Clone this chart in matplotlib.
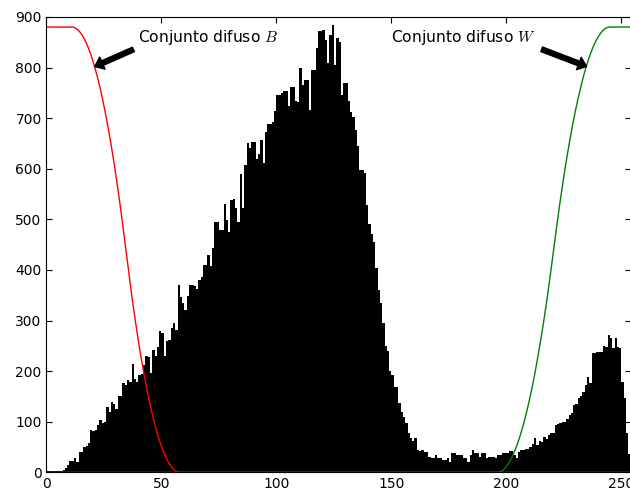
import numpy as np
import matplotlib
matplotlib.use("Agg")
import matplotlib.pyplot as plt

plt.rcParams['mathtext.fontset'] = 'cm'

# histograma de niveles de gris (256 bins)
counts = [
    3, 2, 3, 2, 2, 3, 3, 5, 9, 14,
    22, 22, 28, 20, 40, 40, 50, 52, 57, 84,
    82, 84, 94, 103, 98, 100, 130, 120, 138, 135,
    125, 150, 150, 176, 172, 182, 178, 215, 185, 179,
    192, 195, 212, 229, 228, 196, 242, 230, 247, 280,
    276, 230, 260, 262, 285, 296, 281, 370, 347, 335,
    320, 348, 370, 370, 368, 363, 381, 386, 410, 410,
    429, 408, 443, 494, 494, 479, 479, 530, 499, 475,
    538, 540, 522, 495, 589, 522, 607, 650, 640, 653,
    653, 620, 630, 656, 611, 673, 689, 689, 692, 715,
    746, 746, 749, 754, 754, 723, 762, 762, 734, 732,
    800, 766, 775, 775, 716, 795, 795, 838, 872, 872,
    874, 854, 808, 864, 884, 805, 858, 851, 746, 769,
    769, 733, 713, 703, 677, 644, 598, 598, 591, 529,
    490, 470, 456, 403, 361, 334, 295, 249, 240, 200,
    192, 169, 169, 136, 120, 110, 97, 77, 68, 61,
    67, 44, 43, 44, 41, 41, 31, 28, 28, 34,
    28, 28, 24, 24, 28, 21, 38, 38, 34, 34,
    34, 28, 28, 21, 34, 44, 38, 38, 31, 38,
    38, 28, 31, 31, 31, 28, 34, 34, 38, 38,
    38, 43, 43, 34, 28, 41, 44, 44, 47, 47,
    51, 56, 67, 54, 62, 60, 70, 66, 74, 77,
    77, 94, 95, 97, 100, 100, 105, 113, 117, 133,
    135, 146, 151, 159, 173, 189, 176, 235, 235, 237,
    238, 238, 250, 248, 271, 265, 246, 265, 248, 245,
    179, 146, 77, 37, 30, 30,
]
niveles = np.arange(len(counts))

# conjuntos difusos (funcion S), escalados a la altura del histograma
altura = 880
B_a, B_c = 11, 58
W_a, W_c = 196, 245


def funcion_s(x, a, c):
    b = (a + c) / 2.0
    y = np.zeros_like(x)
    m1 = (x > a) & (x <= b)
    m2 = (x > b) & (x <= c)
    y[m1] = 2 * ((x[m1] - a) / (c - a)) ** 2
    y[m2] = 1 - 2 * ((x[m2] - c) / (c - a)) ** 2
    y[x > c] = 1
    return y


x = np.linspace(0, 256, 1000)
mu_B = altura * (1 - funcion_s(x, B_a, B_c))
mu_W = altura * funcion_s(x, W_a, W_c)

fig = plt.figure(figsize=(6.3, 4.9), dpi=100)
ax = fig.add_axes([0.0738, 0.0361, 0.9273, 0.9294])

ax.bar(niveles, counts, width=1.0, align='edge', color='black', linewidth=0)
ax.plot(x, mu_B, color='r', lw=1)
ax.plot(x, mu_W, color='g', lw=1)

flecha = dict(facecolor='black', shrink=0.05, width=3.5, headwidth=9.5, headlength=6)
ax.annotate('Conjunto difuso $B$', xy=(20, 800), xytext=(40, 850),
            fontsize=11.2, arrowprops=flecha)
ax.annotate('Conjunto difuso $W$', xy=(236, 800), xytext=(150, 850),
            fontsize=11.2, arrowprops=flecha)

ax.set_xlim(0, 254)
ax.set_ylim(0, 900)
ax.set_xticks([0, 50, 100, 150, 200, 250])
ax.set_yticks(range(0, 901, 100))
ax.tick_params(direction='in', top=True, right=True, labelsize=10, length=4, pad=3.5)

fig.savefig('out.png', dpi=100)
